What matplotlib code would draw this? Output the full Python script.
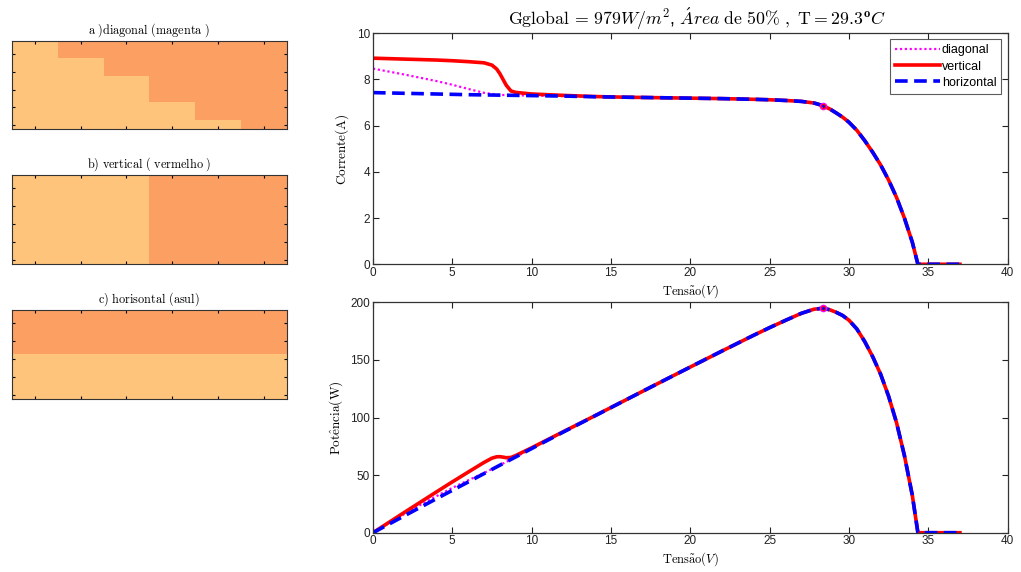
import numpy as np
import matplotlib
matplotlib.use("Agg")
import matplotlib.pyplot as plt
from matplotlib.colors import ListedColormap

plt.rcParams['mathtext.fontset'] = 'cm'
plt.rcParams['font.family'] = ['Liberation Sans', 'DejaVu Sans']

# ---------------- data ----------------
# shading patterns (1 = shaded), 10 rows x 6 columns, top row first
dark_counts_diagonal = [0, 2, 4, 7, 9, 10]   # shaded cells from the top, per column
vertical_shaded_cols = [0, 0, 0, 1, 1, 1]
horizontal_shaded_rows = [1, 1, 1, 1, 1, 0, 0, 0, 0, 0]

# common tail of the curves (all three coincide here)
V_tail = [16, 18, 20, 22, 24, 25, 26, 27, 27.8, 28.35, 28.8, 29.2, 29.6, 30.0, 30.5,
          31.0, 31.5, 32.0, 32.5, 33.0, 33.5, 34.0, 34.35, 35, 36, 37]
I_tail = [7.23, 7.21, 7.19, 7.17, 7.14, 7.12, 7.09, 7.05, 6.98, 6.87, 6.72, 6.55, 6.37,
          6.15, 5.80, 5.35, 4.85, 4.30, 3.65, 2.90, 2.00, 0.95, 0.0, 0, 0, 0]
P_tail = [115.7, 129.8, 143.8, 157.7, 171.4, 178.0, 184.3, 190.4, 194.0, 194.8, 193.5,
          191.3, 188.6, 184.5, 176.9, 165.9, 152.8, 137.6, 118.6, 95.7, 67.0, 32.3, 0, 0, 0, 0]

# diagonal (magenta)
V_diag_head = [0, 1, 2, 3, 4, 5, 6, 7, 8, 10, 12, 14]
I_diag_head = [8.47, 8.34, 8.21, 8.07, 7.93, 7.77, 7.59, 7.42, 7.33, 7.30, 7.28, 7.25]
P_diag_head = [0, 8.3, 16.4, 24.2, 31.7, 38.9, 45.5, 51.9, 58.6, 73.0, 87.4, 101.5]

# vertical (red)
V_vert_head = [0, 1, 2, 3, 4, 5, 6, 7, 7.5, 7.8, 8.0, 8.2, 8.4, 8.7, 9.0, 10, 12, 14]
I_vert_head = [8.92, 8.90, 8.88, 8.86, 8.84, 8.81, 8.77, 8.72, 8.62, 8.45, 8.25, 8.00,
               7.75, 7.50, 7.44, 7.37, 7.31, 7.26]
P_vert_head = [0, 8.9, 17.8, 26.6, 35.4, 44.1, 52.6, 61.0, 64.7, 65.9, 66.0, 65.6, 65.1,
               65.3, 67.0, 73.7, 87.7, 101.6]

# horizontal (blue)
V_hor_head = [0, 2, 4, 6, 8, 10, 12, 14]
I_hor_head = [7.43, 7.40, 7.37, 7.34, 7.32, 7.30, 7.28, 7.25]
P_hor_head = [0, 14.8, 29.5, 44.0, 58.6, 73.0, 87.4, 101.5]

# maximum power point
V_mpp = 28.35
I_mpp = 6.87
P_mpp = 194.8

series_names = ['diagonal', 'vertical', 'horizontal']
panel_titles = [r'$\mathrm{a\ )diagonal\ (magenta\ )}$',
                r'$\mathrm{b)\ vertical\ (\ vermelho\ )}$',
                r'$\mathrm{c)\ horisontal\ (asul)}$']

# ---------------- figure ----------------
light = '#FEC47B'
dark = '#FB9F63'
cmap = ListedColormap([light, dark])

fig = plt.figure(figsize=(10.21, 5.72), dpi=100)

# shading matrices
nrows, ncols = 10, 6
m_diag = np.zeros((nrows, ncols))
for j, c in enumerate(dark_counts_diagonal):
    m_diag[:c, j] = 1
m_vert = np.tile(np.array(vertical_shaded_cols, dtype=float), (nrows, 1))
m_hor = np.tile(np.array(horizontal_shaded_rows, dtype=float)[:, None], (1, ncols))

left_boxes = [[0.0118, 0.774, 0.2689, 0.1544],
              [0.0118, 0.538, 0.2689, 0.1561],
              [0.0118, 0.302, 0.2689, 0.1561]]
for box, mat, title in zip(left_boxes, [m_diag, m_vert, m_hor], panel_titles):
    ax = fig.add_axes(box)
    ax.imshow(mat, cmap=cmap, vmin=0, vmax=1, aspect='auto', interpolation='nearest',
              extent=(0.5, 6.5, 10.5, 0.5))
    ax.set_xticks([1, 2, 3, 4, 5, 6])
    ax.set_yticks([2, 4, 6, 8, 10])
    ax.tick_params(direction='in', length=2.5, width=0.8, top=True, right=True,
                   labelbottom=False, labelleft=False)
    for s in ax.spines.values():
        s.set_linewidth(0.8)
        s.set_color('#333333')
    ax.set_title(title, fontsize=8.8, pad=5)

def style_axes(ax):
    ax.tick_params(direction='in', length=4, width=0.8, top=True, right=True,
                   labelsize=8.5, pad=2, colors='#222222')
    for s in ax.spines.values():
        s.set_linewidth(0.9)
        s.set_color('#333333')

V_diag = V_diag_head + V_tail
V_vert = V_vert_head + V_tail
V_hor = V_hor_head + V_tail

# I-V
ax1 = fig.add_axes([0.3653, 0.538, 0.6215, 0.4039])
ax1.plot(V_diag, I_diag_head + I_tail, color='#FF00FF', lw=1.6, ls=(0, (1, 1.2)), label=series_names[0])
ax1.plot(V_vert, I_vert_head + I_tail, color='#FF0000', lw=2.6, label=series_names[1])
ax1.plot(V_hor, I_hor_head + I_tail, color='#0000FF', lw=2.6, ls=(0, (3.5, 1.8)), label=series_names[2])
ax1.plot([V_mpp], [I_mpp], 'o', ms=4.5, mfc='none', mec='#FF00FF', mew=1)
ax1.plot([V_mpp], [I_mpp], 'o', ms=3, mfc='none', mec='#FF0000', mew=0.8)
ax1.set_xlim(0, 40)
ax1.set_ylim(0, 10)
ax1.set_xticks(range(0, 41, 5))
ax1.set_yticks(range(0, 11, 2))
style_axes(ax1)
ax1.set_xlabel(r'$\mathrm{Tens\tilde{a}o}(V)$', fontsize=9, labelpad=2)
ax1.set_ylabel(r'$\mathrm{Corrente(A)}$', fontsize=9.5, labelpad=4)
ax1.set_title(r'$\mathrm{Gglobal}\,=\,979W/m^2$, $\acute{A}rea$ $\mathrm{de\ 50\%\ ,\ T{=}29.3}^{\mathbf{o}}C$',
              fontsize=12.8, pad=6, x=0.511)
leg = ax1.legend(loc='upper right', fontsize=9, frameon=True, fancybox=False,
                 handlelength=3.6, handletextpad=0.15, borderpad=0.4, labelspacing=0.33,
                 borderaxespad=0.5)
leg.get_frame().set_edgecolor('#333333')
leg.get_frame().set_linewidth(0.8)

# P-V
ax2 = fig.add_axes([0.3653, 0.0687, 0.6215, 0.4028])
ax2.plot(V_diag, P_diag_head + P_tail, color='#FF00FF', lw=1.6, ls=(0, (1, 1.2)))
ax2.plot(V_vert, P_vert_head + P_tail, color='#FF0000', lw=2.6)
ax2.plot(V_hor, P_hor_head + P_tail, color='#0000FF', lw=2.6, ls=(0, (3.5, 1.8)))
ax2.plot([V_mpp], [P_mpp], 'o', ms=4.5, mfc='none', mec='#FF00FF', mew=1)
ax2.plot([V_mpp], [P_mpp], 'o', ms=3, mfc='none', mec='#FF0000', mew=0.8)
ax2.set_xlim(0, 40)
ax2.set_ylim(0, 200)
ax2.set_xticks(range(0, 41, 5))
ax2.set_yticks(range(0, 201, 50))
style_axes(ax2)
ax2.set_xlabel(r'$\mathrm{Tens\tilde{a}o}(V)$', fontsize=9, labelpad=2)
ax2.set_ylabel(r'$\mathrm{Pot\hat{e}ncia(W)}$', fontsize=9.5, labelpad=4)

fig.savefig('out.png', dpi=100)
